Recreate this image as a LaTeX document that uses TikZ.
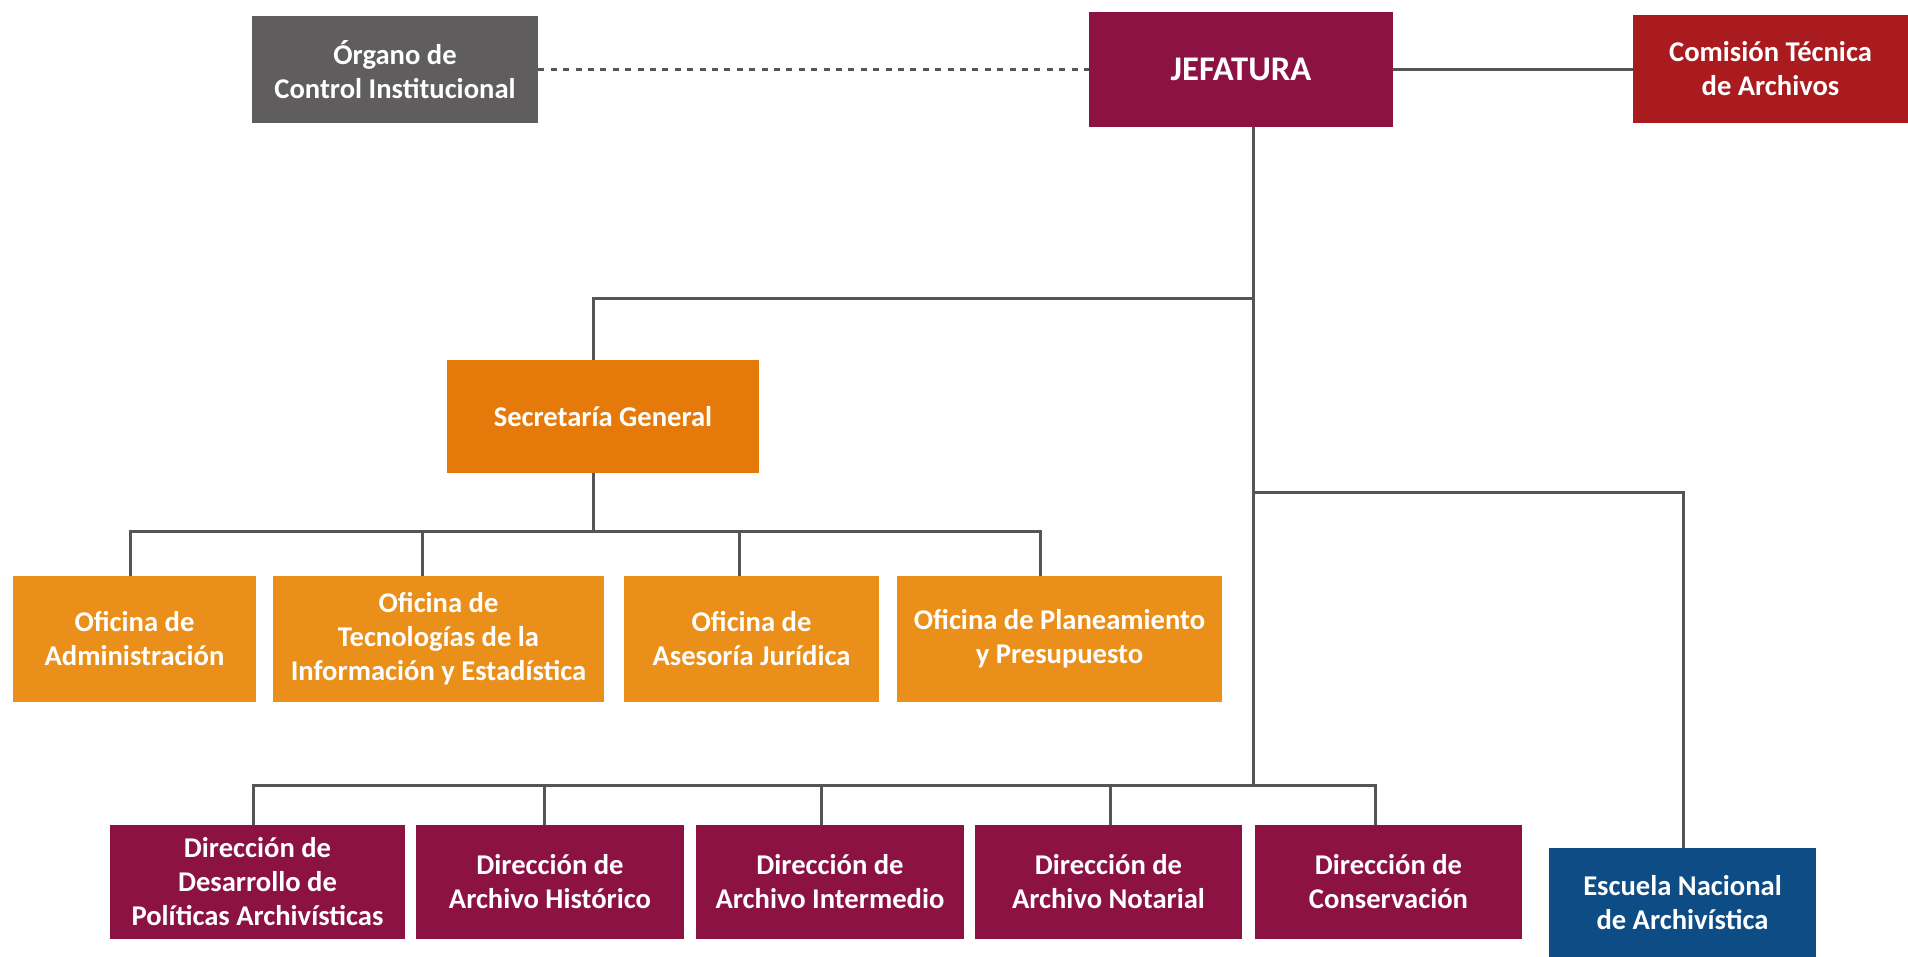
\documentclass[tikz,border=0pt]{standalone}
\usepackage{fontspec}
\setmainfont{Carlito}
\definecolor{vino}{HTML}{8B1243}
\definecolor{rojo}{HTML}{A91B1E}
\definecolor{gris}{HTML}{5F5D5E}
\definecolor{naranja}{HTML}{E57A0A}
\definecolor{naranjaclaro}{HTML}{EA8F1A}
\definecolor{azul}{HTML}{0E4C86}
\definecolor{linea}{HTML}{555555}

\begin{document}
\begin{tikzpicture}[x=0.5pt, y=-0.5pt,
  caja/.style={rectangle, inner sep=2pt, text=white, align=center,
    font=\bfseries\fontsize{14.3}{17}\selectfont},
  conector/.style={draw=linea, line width=1.5pt},
  punteado/.style={draw=linea, line width=1.6pt, dash pattern=on 3pt off 3.2pt}]
  \useasboundingbox (0,0) rectangle (1908,957);

  % alta direccion
  \node[caja, fill=gris, minimum width=143pt, minimum height=53.5pt] (organo) at (395,69.5) {Órgano de\\Control Institucional};
  \node[caja, fill=vino, minimum width=152pt, minimum height=57.5pt, font=\bfseries\fontsize{17.3}{20}\selectfont] (jefatura) at (1241,69.5) {JEFATURA};
  \node[caja, fill=rojo, minimum width=137.5pt, minimum height=54pt] (comision) at (1770.5,69) {Comisión Técnica\\de Archivos};

  % apoyo
  \node[caja, fill=naranja, minimum width=156pt, minimum height=56.5pt] (secretaria) at (603,416.5) {Secretaría General};
  \node[caja, fill=naranjaclaro, minimum width=121.5pt, minimum height=63pt] (ofadm) at (134.5,639) {Oficina de\\Administración};
  \node[caja, fill=naranjaclaro, minimum width=165.5pt, minimum height=63pt] (oftec) at (438.5,639) {Oficina de\\Tecnologías de la\\Información y Estadística};
  \node[caja, fill=naranjaclaro, minimum width=127.5pt, minimum height=63pt] (ofase) at (751.5,639) {Oficina de\\Asesoría Jurídica};
  \node[caja, fill=naranjaclaro, minimum width=162.5pt, minimum height=63pt] (ofpla) at (1059.5,639) {Oficina de Planeamiento\\y Presupuesto};

  % organos de linea
  \node[caja, fill=vino, minimum width=147.5pt, minimum height=57pt] (dirdes) at (257.5,882) {Dirección de\\Desarrollo de\\Políticas Archivísticas};
  \node[caja, fill=vino, minimum width=134pt, minimum height=57pt] (dirhis) at (550,882) {Dirección de\\Archivo Histórico};
  \node[caja, fill=vino, minimum width=134pt, minimum height=57pt] (dirint) at (830,882) {Dirección de\\Archivo Intermedio};
  \node[caja, fill=vino, minimum width=133.5pt, minimum height=57pt] (dirnot) at (1108.5,882) {Dirección de\\Archivo Notarial};
  \node[caja, fill=vino, minimum width=133.5pt, minimum height=57pt] (dircon) at (1388.5,882) {Dirección de\\Conservación};
  \node[caja, fill=azul, minimum width=133.5pt, minimum height=54.5pt] (escuela) at (1682.5,902.5) {Escuela Nacional\\de Archivística};

  % puntos de ramificacion
  \coordinate (tronco) at (1253,127);
  \coordinate (ramsec) at (1253,299);
  \coordinate (ramesc) at (1253,492);
  \coordinate (ramdir) at (1253,785);
  \coordinate (ramof) at (593,531);

  % lineas
  \draw[punteado] (organo) -- (jefatura);
  \draw[conector] (jefatura.east) -- (jefatura.east -| comision.west);
  \draw[conector] (tronco) -- (ramdir);
  \draw[conector] (ramsec) -| (secretaria.north -| ramof);
  \draw[conector] (secretaria.south -| ramof) -- (ramof);
  \draw[conector] (ramesc) -| (escuela.north -| 1683,0);
  \draw[conector] (ofadm.north -| 130,0) |- (ramof) -| (ofpla.north -| 1040,0);
  \draw[conector] (oftec.north -| 422,0) -- (ramof -| 422,0);
  \draw[conector] (ofase.north -| 739,0) -- (ramof -| 739,0);
  \draw[conector] (dirdes.north -| 253,0) |- (ramdir) -| (dircon.north -| 1375,0);
  \draw[conector] (dirhis.north -| 544,0) -- (ramdir -| 544,0);
  \draw[conector] (dirint.north -| 821,0) -- (ramdir -| 821,0);
  \draw[conector] (dirnot.north -| 1110,0) -- (ramdir -| 1110,0);
\end{tikzpicture}
\end{document}
